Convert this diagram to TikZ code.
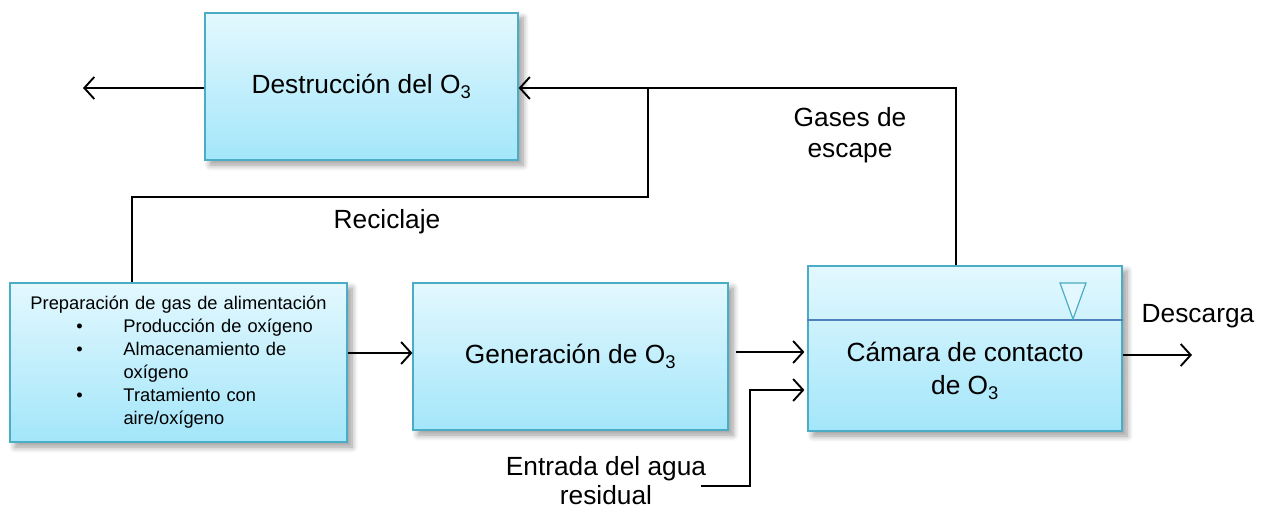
\documentclass[tikz,border=0pt]{standalone}
\usepackage{fontspec}
\setmainfont{Liberation Sans}
\usetikzlibrary{arrows.meta,shadows.blur}
\definecolor{boxtop}{HTML}{E3F8FE}
\definecolor{boxbot}{HTML}{A3E6FA}
\definecolor{boxline}{HTML}{4BACC6}
\definecolor{divline}{HTML}{4F81BD}
\tikzset{
  flowbox/.style={draw=boxline, line width=1.2pt, top color=boxtop, bottom color=boxbot,
    inner sep=0pt, blur shadow={shadow xshift=5pt, shadow yshift=-5pt, shadow blur steps=8, shadow blur radius=6pt, shadow opacity=40}},
  flow/.style={line width=1.9pt, black},
  flowarrow/.style={flow, -{Straight Barb[length=10pt,width=22pt,line width=1.9pt]}},
  lbl/.style={font=\fontsize{26.3}{32}\selectfont, align=center, inner sep=0pt},
}
\begin{document}
\begin{tikzpicture}[x=1pt,y=-1pt]
\useasboundingbox (0,0) rectangle (1268,510);
% boxes
\node[flowbox, minimum width=313pt, minimum height=147pt, lbl] (dest) at (361.5,86.5) {Destrucción del O\textsubscript{3}};
\node[flowbox, minimum width=337pt, minimum height=159pt, font=\fontsize{18.3}{23}\selectfont, align=left, text width=320pt] (prep) at (178.5,362.5) {%
\makebox[320pt][c]{Preparación de gas de alimentación}\\
\hspace*{58pt}\makebox[47pt][l]{\textbullet}Producción de oxígeno\\
\hspace*{58pt}\makebox[47pt][l]{\textbullet}Almacenamiento de\\
\hspace*{105pt}oxígeno\\
\hspace*{58pt}\makebox[47pt][l]{\textbullet}Tratamiento con\\
\hspace*{105pt}aire/oxígeno};
\node[flowbox, minimum width=315pt, minimum height=147pt, lbl] (gen) at (570.5,356.5) {Generación de O\textsubscript{3}};
\node[flowbox, minimum width=314pt, minimum height=165pt] (cam) at (965,348.5) {};
\draw[divline, line width=1.2pt] (cam.west |- 0,320) -- (cam.east |- 0,320);
\draw[boxline, line width=1.2pt, fill=boxtop] (1060,283) -- (1086,283) -- (1073,319) -- cycle;
\node[lbl, font=\fontsize{26.3}{33}\selectfont] (camtext) at (965,371) {Cámara de contacto\\de O\textsubscript{3}};
% labels
\node[lbl, font=\fontsize{26.3}{31}\selectfont] (gases) at (850,135) {Gases de\\escape};
\node[lbl] (recic) at (387,222) {Reciclaje};
\node[lbl] (desc) at (1198,316) {Descarga};
\node[lbl, font=\fontsize{26.3}{29}\selectfont] (entr) at (606,481) {Entrada del agua\\residual};
% coordinates
\coordinate (outl) at (83,88);
\coordinate (outr) at (1192,355);
\coordinate (win) at (701,486);
\coordinate (jtop) at (648,88);
% connectors
\draw[flowarrow] (dest.west |- 0,88) -- (outl);
\draw[flowarrow] (cam.north -| 956,0) -- (956,88) -- (dest.east |- 0,88);
\draw[flow] (jtop) -- (648,197) -- (132,197) -- (prep.north -| 132,0);
\draw[flowarrow] (prep.east |- 0,353) -- (gen.west |- 0,353);
\draw[flowarrow] ([xshift=7pt]gen.east |- 0,352) -- ([xshift=-3pt]cam.west |- 0,352);
\draw[flowarrow] (win) -| (750,390) -- ([xshift=-3pt]cam.west |- 0,390);
\draw[flowarrow] (cam.east |- 0,355) -- (outr);
\end{tikzpicture}
\end{document}
